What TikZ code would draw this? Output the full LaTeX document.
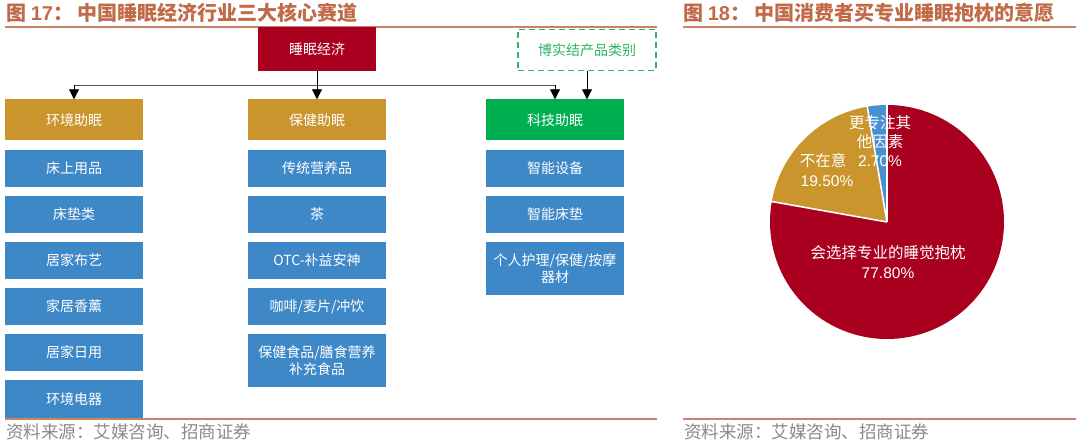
\documentclass[tikz,border=0pt]{standalone}
\usepackage{fontspec}
\setmainfont{Noto Sans CJK SC}
\newfontfamily\arial{Liberation Sans}
\usetikzlibrary{arrows.meta}
\definecolor{ttl}{HTML}{C06A48}
\definecolor{rule}{HTML}{C98366}
\definecolor{dred}{HTML}{A8001E}
\definecolor{gold}{HTML}{C9952C}
\definecolor{bblue}{HTML}{3F88C8}
\definecolor{pblue}{HTML}{4A8FD0}
\definecolor{bgreen}{HTML}{00B050}
\definecolor{dgreen}{HTML}{2FB463}
\definecolor{src}{HTML}{8A8A8A}
\definecolor{conn}{HTML}{555555}
\tikzset{
  box/.style={inner sep=0pt, minimum width=138pt, minimum height=37pt, text=white, align=center,
    font=\fontsize{14}{17.5}\selectfont},
  catbox/.style={box, minimum height=41pt},
  leaf/.style={box, fill=bblue},
  tall/.style={leaf, minimum height=53pt},
  arr/.style={draw=black, line width=0.9pt, -{Triangle[width=10pt,length=10pt]}},
  hline/.style={draw=conn, line width=0.9pt},
  title/.style={anchor=west, inner sep=0pt, text=ttl, font=\fontsize{20}{22}\selectfont\bfseries},
  srctext/.style={anchor=west, inner sep=0pt, text=src, font=\fontsize{17.5}{20}\selectfont},
  pielab/.style={inner sep=0pt, text=white, font=\fontsize{15.5}{18}\selectfont},
  pienum/.style={inner sep=0pt, text=white, font=\arial\fontsize{15.5}{18}\selectfont},
}
\begin{document}
\begin{tikzpicture}[x=1pt,y=-1pt]
\useasboundingbox[fill=white] (0,0) rectangle (1080,443);

% titles and rules
\node[title] (t1) at (6,13) {图 {\arial 17}：\hspace{4pt}中国睡眠经济行业三大核心赛道};
\node[title] (t2) at (683,13) {图 {\arial 18}：\hspace{4pt}中国消费者买专业睡眠抱枕的意愿};
\draw[rule, line width=1.8pt] (5,27) -- (657,27);
\draw[rule, line width=1.8pt] (683,27) -- (1076,27);
\draw[rule, line width=1.8pt] (5,419) -- (657,419);
\draw[rule, line width=1.8pt] (683,419) -- (1076,419);
\node[srctext] (s1) at (6,432) {资料来源：艾媒咨询、招商证券};
\node[srctext] (s2) at (684,432) {资料来源：艾媒咨询、招商证券};

% top boxes
\node[box, fill=dred, minimum width=118pt, minimum height=44pt] (top) at (317,49) {睡眠经济};
\node[box, draw=dgreen, dashed, dash pattern=on 6pt off 4pt, line width=1.5pt, text=dgreen,
      minimum width=138pt, minimum height=41pt] (bsj) at (587,50) {博实结产品类别};

% categories
\node[catbox, fill=gold] (c1) at (74,120) {环境助眠};
\node[catbox, fill=gold] (c2) at (317,120) {保健助眠};
\node[catbox, fill=bgreen] (c3) at (555,120) {科技助眠};

% connectors
\coordinate (hl) at (74,85);
\coordinate (hr) at (555,85);
\draw[hline] (hl) -- (hr);
\draw[arr] (top.south) -- (c2.north);
\draw[arr] (hl) -- (c1.north);
\draw[arr] (hr) -- (c3.north);
\draw[arr] (bsj.south) -- (bsj.south |- c3.north);

% column 1
\node[leaf] (a1) at (74,168.5) {床上用品};
\node[leaf] (a2) at (74,214.5) {床垫类};
\node[leaf] (a3) at (74,260.5) {居家布艺};
\node[leaf] (a4) at (74,306.5) {家居香薰};
\node[leaf] (a5) at (74,352.5) {居家日用};
\node[leaf, minimum height=38pt] (a6) at (74,399) {环境电器};

% column 2
\node[leaf] (b1) at (317,168.5) {传统营养品};
\node[leaf] (b2) at (317,214.5) {茶};
\node[leaf] (b3) at (317,260.5) {OTC-补益安神};
\node[leaf] (b4) at (317,306.5) {咖啡/麦片/冲饮};
\node[tall] (b5) at (317,360.5) {保健食品/膳食营养\\补充食品};

% column 3
\node[leaf] (d1) at (555,168.5) {智能设备};
\node[leaf] (d2) at (555,214.5) {智能床垫};
\node[tall] (d3) at (555,268.5) {个人护理/保健/按摩\\器材};

% pie
\begin{scope}[shift={(887,222)}, yscale=-1]
  \fill[dred] (0,0) -- (90:117) arc[start angle=90, end angle=-190.08, radius=117] -- cycle;
  \fill[gold] (0,0) -- (169.92:117) arc[start angle=169.92, end angle=99.72, radius=117] -- cycle;
  \fill[pblue] (0,0) -- (99.72:117) arc[start angle=99.72, end angle=90, radius=117] -- cycle;
  \draw[white, line width=1.6pt] (0,0) -- (90:118);
  \draw[white, line width=1.6pt] (0,0) -- (169.92:118);
  \draw[white, line width=1.6pt] (0,0) -- (99.72:118);
\end{scope}
\node[pielab] (l1) at (888,253) {会选择专业的睡觉抱枕};
\node[pienum] (n1) at (888,273) {77.80\%};
\node[pielab] (l2) at (823,161) {不在意};
\node[pienum] (n2) at (827,181) {19.50\%};
\node[pielab] (l3a) at (880,123) {更专注其};
\node[pielab] (l3b) at (880,142) {他因素};
\node[pienum] (n3) at (880,161) {2.70\%};
\end{tikzpicture}
\end{document}
